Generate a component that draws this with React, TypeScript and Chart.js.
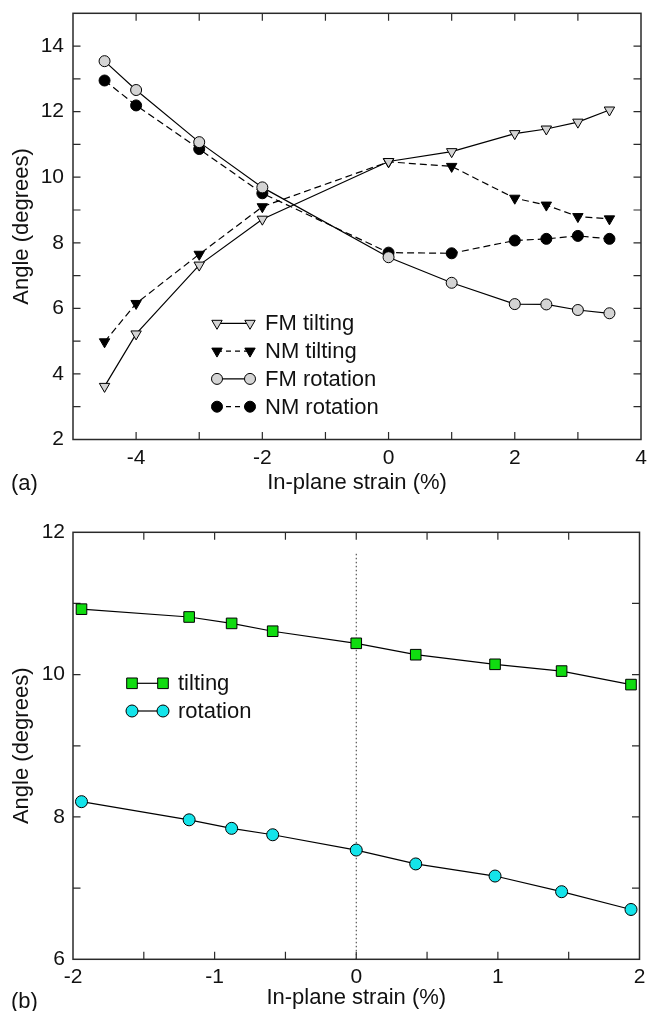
import React, { useEffect, useRef } from "react";
import { Chart, registerables } from "chart.js";

Chart.register(...registerables);

const FONT = "'Liberation Sans', Arial, Helvetica, sans-serif";
const INK = "#111111";

// ---------- panel (a) data ----------
const strainA = [-4.5, -4, -3, -2, 0, 1, 2, 2.5, 3, 3.5];
const fmTilting = [3.62, 5.22, 7.32, 8.72, 10.48, 10.78, 11.33, 11.47, 11.68, 12.05];
const nmTilting = [4.98, 6.15, 7.65, 9.1, 10.47, 10.33, 9.36, 9.15, 8.8, 8.73];
const fmRotation = [13.54, 12.66, 11.07, 9.69, 7.56, 6.78, 6.13, 6.12, 5.95, 5.85];
const nmRotation = [12.95, 12.19, 10.86, 9.51, 7.7, 7.68, 8.07, 8.12, 8.21, 8.12];
const xLabelsA = [-4, -2, 0, 2, 4];
const yLabelsA = [2, 4, 6, 8, 10, 12, 14];

// ---------- panel (b) data ----------
const strainB = [-1.94, -1.18, -0.88, -0.59, 0, 0.42, 0.98, 1.45, 1.94];
const tiltingB = [10.92, 10.81, 10.72, 10.61, 10.44, 10.28, 10.145, 10.05, 9.86];
const rotationB = [8.215, 7.96, 7.84, 7.75, 7.535, 7.34, 7.17, 6.95, 6.7];
const zeroLineX = [0, 0];
const zeroLineY = [6, 11.7];
const xLabelsB = [-2, -1, 0, 1, 2];
const yLabelsB = [6, 8, 10, 12];

type MarkerStyle = "triangleDown" | "circle" | "rect";
interface LegendItem {
  label: string;
  marker: MarkerStyle;
  fill: string;
  dash: number[];
  radius: number;
}

function drawMarker(ctx: CanvasRenderingContext2D, style: MarkerStyle, x: number, y: number, r: number, fill: string) {
  ctx.beginPath();
  if (style === "circle") {
    ctx.arc(x, y, r, 0, Math.PI * 2);
  } else if (style === "rect") {
    const s = r * Math.SQRT1_2;
    ctx.rect(x - s, y - s, 2 * s, 2 * s);
  } else {
    const h = r * Math.sin(Math.PI / 3);
    ctx.moveTo(x, y + r);
    ctx.lineTo(x - h, y - r / 2);
    ctx.lineTo(x + h, y - r / 2);
    ctx.closePath();
  }
  ctx.fillStyle = fill;
  ctx.fill();
  ctx.setLineDash([]);
  ctx.lineWidth = 1;
  ctx.strokeStyle = "#000";
  ctx.stroke();
}

interface DecoOpts {
  tag: string;
  tagY: number;
  legend: LegendItem[];
  legendX: number;
  legendY: number;
  rowGap: number;
  symGap: number;
  textGap: number;
  tickLen: number;
}

function makeDeco(o: DecoOpts) {
  return {
    id: "deco",
    beforeDatasetsDraw(chart: any) {
      const { ctx, chartArea: a, scales } = chart;
      const xs = scales.x;
      const ys = scales.y;
      const L = o.tickLen;
      ctx.save();
      ctx.strokeStyle = "#2a2a2a";
      ctx.lineWidth = 1.2;
      ctx.beginPath();
      xs.ticks.forEach((t: any) => {
        if (t.value <= xs.min || t.value >= xs.max) return;
        const px = xs.getPixelForValue(t.value);
        ctx.moveTo(px, a.bottom);
        ctx.lineTo(px, a.bottom - L);
        ctx.moveTo(px, a.top);
        ctx.lineTo(px, a.top + L);
      });
      ys.ticks.forEach((t: any) => {
        if (t.value <= ys.min || t.value >= ys.max) return;
        const py = ys.getPixelForValue(t.value);
        ctx.moveTo(a.left, py);
        ctx.lineTo(a.left + L, py);
        ctx.moveTo(a.right, py);
        ctx.lineTo(a.right - L, py);
      });
      ctx.stroke();
      ctx.lineWidth = 1.5;
      ctx.strokeRect(a.left, a.top, a.right - a.left, a.bottom - a.top);
      ctx.restore();
    },
    afterDraw(chart: any) {
      const { ctx, chartArea: a } = chart;
      ctx.save();
      o.legend.forEach((item, i) => {
        const y = a.top + o.legendY + i * o.rowGap;
        const x1 = a.left + o.legendX;
        const x2 = x1 + o.symGap;
        ctx.beginPath();
        ctx.setLineDash(item.dash);
        ctx.lineWidth = 1.2;
        ctx.strokeStyle = "#000";
        ctx.moveTo(x1, y);
        ctx.lineTo(x2, y);
        ctx.stroke();
        drawMarker(ctx, item.marker, x1, y, item.radius, item.fill);
        drawMarker(ctx, item.marker, x2, y, item.radius, item.fill);
        ctx.fillStyle = INK;
        ctx.font = `22px ${FONT}`;
        ctx.textBaseline = "middle";
        ctx.textAlign = "left";
        ctx.fillText(item.label, x2 + o.textGap, y + 1);
      });
      ctx.fillStyle = INK;
      ctx.font = `22px ${FONT}`;
      ctx.textBaseline = "middle";
      ctx.textAlign = "left";
      ctx.fillText(o.tag, 11, o.tagY);
      ctx.restore();
    },
  };
}

function pts(xs: number[], ys: number[]) {
  return xs.map((x, i) => ({ x, y: ys[i] }));
}

function labelCb(list: number[]) {
  return (v: any) => {
    const n = Number(v);
    return list.some((l) => Math.abs(l - n) < 1e-6) ? String(n) : "";
  };
}

function axisCommon(labels: number[], step: number, padding: number, size: number) {
  return {
    type: "linear" as const,
    grid: { display: false, drawTicks: false },
    border: { display: false },
    ticks: {
      stepSize: step,
      autoSkip: false,
      maxRotation: 0,
      padding,
      color: INK,
      font: { family: FONT, size },
      callback: labelCb(labels),
    },
  };
}

export default function App() {
  const refA = useRef<HTMLCanvasElement>(null);
  const refB = useRef<HTMLCanvasElement>(null);

  useEffect(() => {
    const lineBase = { showLine: true, borderColor: "#000", borderWidth: 1.2, pointBorderColor: "#000", pointBorderWidth: 1, clip: false as any };

    const chartA = new Chart(refA.current!, {
      type: "scatter",
      data: {
        datasets: [
          { ...lineBase, label: "FM tilting", data: pts(strainA, fmTilting), pointStyle: "triangle", pointRotation: 180, pointRadius: 6, pointBackgroundColor: "#d4d4d4" },
          { ...lineBase, label: "NM tilting", data: pts(strainA, nmTilting), borderDash: [7, 4], pointStyle: "triangle", pointRotation: 180, pointRadius: 6, pointBackgroundColor: "#000" },
          { ...lineBase, label: "FM rotation", data: pts(strainA, fmRotation), pointStyle: "circle", pointRadius: 5.5, pointBackgroundColor: "#d4d4d4" },
          { ...lineBase, label: "NM rotation", data: pts(strainA, nmRotation), borderDash: [7, 4], pointStyle: "circle", pointRadius: 5.5, pointBackgroundColor: "#000" },
        ],
      },
      options: {
        animation: false,
        responsive: false,
        events: [],
        layout: { padding: { top: 13.3, right: 4.7, left: 0, bottom: 0 } },
        plugins: { legend: { display: false }, tooltip: { enabled: false } },
        scales: {
          x: {
            ...axisCommon(xLabelsA, 1, 6, 21),
            min: -5,
            max: 4,
            afterFit: (s: any) => {
              s.height = 60.5;
              s.paddingLeft = 0;
              s.paddingRight = 0;
            },
            title: { display: true, text: "In-plane strain (%)", color: INK, font: { family: FONT, size: 22 }, padding: { top: 0, bottom: 3.8 } },
          },
          y: {
            ...axisCommon(yLabelsA, 1, 9, 21),
            min: 2,
            max: 15,
            afterFit: (s: any) => {
              s.width = 73;
              s.paddingTop = 0;
              s.paddingBottom = 0;
            },
            title: { display: true, text: "Angle (degrees)", color: INK, font: { family: FONT, size: 22 }, padding: { top: 9, bottom: 0 } },
          },
        },
      } as any,
      plugins: [
        makeDeco({
          tag: "(a)",
          tagY: 484,
          legend: [
            { label: "FM tilting", marker: "triangleDown", fill: "#d4d4d4", dash: [], radius: 6 },
            { label: "NM tilting", marker: "triangleDown", fill: "#000", dash: [5, 4], radius: 6 },
            { label: "FM rotation", marker: "circle", fill: "#d4d4d4", dash: [], radius: 5.5 },
            { label: "NM rotation", marker: "circle", fill: "#000", dash: [5, 4], radius: 5.5 },
          ],
          legendX: 144,
          legendY: 310,
          rowGap: 27.8,
          symGap: 33,
          textGap: 15,
          tickLen: 7.5,
        }),
      ],
    });

    const chartB = new Chart(refB.current!, {
      type: "scatter",
      data: {
        datasets: [
          { ...lineBase, label: "tilting", data: pts(strainB, tiltingB), pointStyle: "rect", pointRadius: 7.5, pointBackgroundColor: "#10dc10" },
          { ...lineBase, label: "rotation", data: pts(strainB, rotationB), pointStyle: "circle", pointRadius: 6, pointBackgroundColor: "#14e4ea" },
          { label: "zero strain", data: pts(zeroLineX, zeroLineY), showLine: true, borderColor: "#333", borderWidth: 1, borderDash: [1.5, 2.5], pointRadius: 0, clip: false as any },
        ],
      },
      options: {
        animation: false,
        responsive: false,
        events: [],
        layout: { padding: { top: 32.3, right: 4.7, left: 0, bottom: 0 } },
        plugins: { legend: { display: false }, tooltip: { enabled: false } },
        scales: {
          x: {
            ...axisCommon(xLabelsB, 0.5, 5, 21),
            min: -2,
            max: 2,
            afterFit: (s: any) => {
              s.height = 70.7;
              s.paddingLeft = 0;
              s.paddingRight = 0;
            },
            title: { display: true, text: "In-plane strain (%)", color: INK, font: { family: FONT, size: 22 }, padding: { top: 0, bottom: 18.8 } },
          },
          y: {
            ...axisCommon(yLabelsB, 1, 8, 21),
            min: 6,
            max: 12,
            afterFit: (s: any) => {
              s.width = 73;
              s.paddingTop = 0;
              s.paddingBottom = 0;
            },
            title: { display: true, text: "Angle (degrees)", color: INK, font: { family: FONT, size: 22 }, padding: { top: 9, bottom: 0 } },
          },
        },
      } as any,
      plugins: [
        makeDeco({
          tag: "(b)",
          tagY: 502,
          legend: [
            { label: "tilting", marker: "rect", fill: "#10dc10", dash: [], radius: 7.5 },
            { label: "rotation", marker: "circle", fill: "#14e4ea", dash: [], radius: 6 },
          ],
          legendX: 59,
          legendY: 151,
          rowGap: 27.7,
          symGap: 31,
          textGap: 15,
          tickLen: 7.5,
        }),
      ],
    });

    return () => {
      chartA.destroy();
      chartB.destroy();
    };
  }, []);

  return (
    <div style={{ position: "absolute", left: 0, top: 0, width: 648, height: 1011, overflow: "hidden", background: "#fff" }}>
      <canvas ref={refA} width={648} height={500} style={{ position: "absolute", left: 0, top: 0, width: 648, height: 500 }} />
      <canvas ref={refB} width={648} height={530} style={{ position: "absolute", left: 0, top: 500, width: 648, height: 530 }} />
    </div>
  );
}
